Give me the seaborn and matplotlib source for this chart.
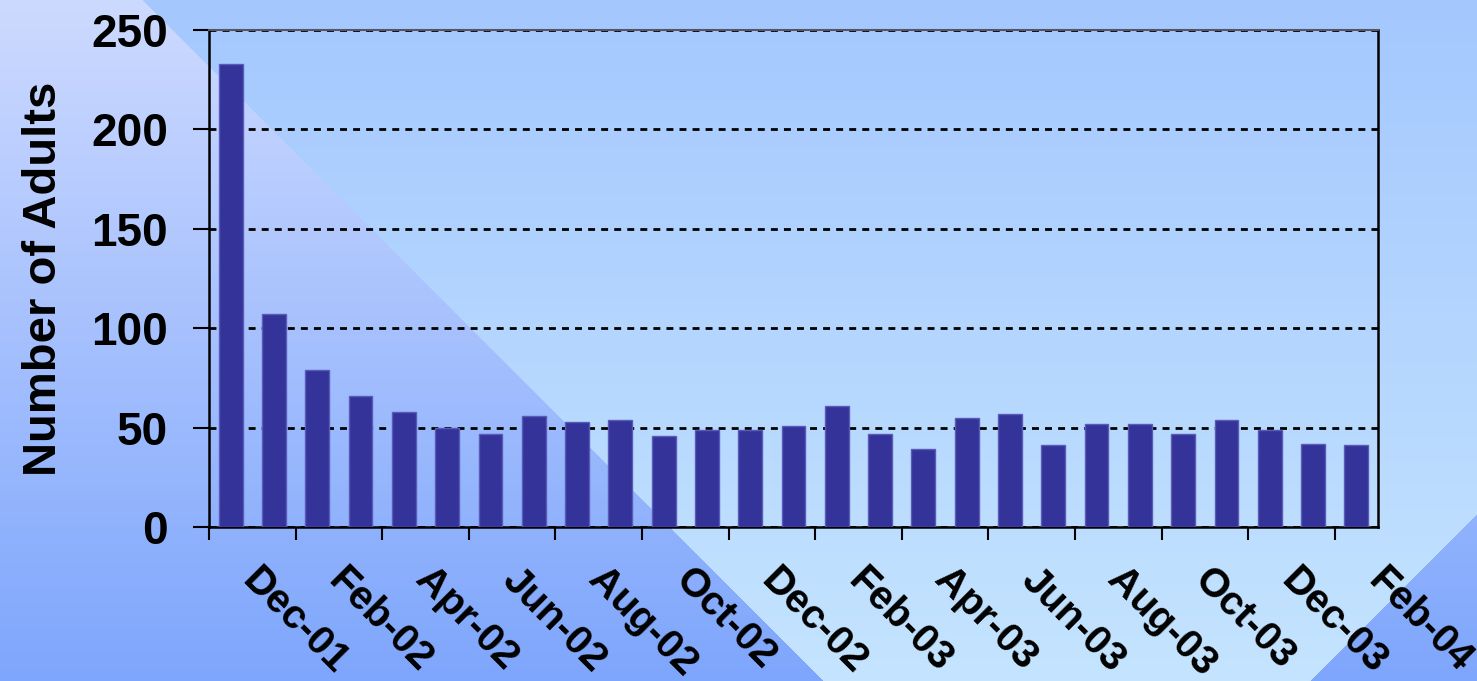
import numpy as np
import pandas as pd
import matplotlib
matplotlib.use("Agg")
import matplotlib.pyplot as plt
import matplotlib.transforms as mtransforms
import seaborn as sns

# Monthly adult counts
months = ["Nov-01", "Dec-01", "Jan-02", "Feb-02", "Mar-02", "Apr-02", "May-02",
          "Jun-02", "Jul-02", "Aug-02", "Sep-02", "Oct-02", "Nov-02", "Dec-02",
          "Jan-03", "Feb-03", "Mar-03", "Apr-03", "May-03", "Jun-03", "Jul-03",
          "Aug-03", "Sep-03", "Oct-03", "Nov-03", "Dec-03", "Jan-04"]
adults = [233, 107, 79, 66, 58, 50, 47, 56, 53, 54, 46, 49, 49, 51,
          61, 47, 39, 55, 57, 41, 52, 52, 47, 54, 49, 42, 41]
axis_labels = ["Dec-01", "Feb-02", "Apr-02", "Jun-02", "Aug-02", "Oct-02", "Dec-02",
               "Feb-03", "Apr-03", "Jun-03", "Aug-03", "Oct-03", "Dec-03", "Feb-04"]
y_ticks = [0, 50, 100, 150, 200, 250]

df = pd.DataFrame({"month": months, "adults": adults})

sns.set_theme(style="white")
plt.rcParams["font.family"] = ["Liberation Sans", "DejaVu Sans"]
plt.rcParams["text.color"] = "black"
plt.rcParams["axes.labelcolor"] = "black"
plt.rcParams["xtick.color"] = "black"
plt.rcParams["ytick.color"] = "black"

W, H = 1477, 681
fig = plt.figure(figsize=(W / 100, H / 100), dpi=100)

# Slide-style backdrop: two blue gradients split by a 45 degree diagonal
yy, xx = np.mgrid[0:H, 0:W].astype(float)
t = yy / (H - 1)
left_top = np.array([205, 218, 255]) / 255
left_bot = np.array([126, 166, 252]) / 255
right_top = np.array([164, 200, 254]) / 255
right_bot = np.array([196, 228, 255]) / 255
left = left_top + (left_bot - left_top) * t[..., None]
right = right_top + (right_bot - right_top) * t[..., None]
mask_left = (xx < 143 + yy)[..., None]
mask_corner = (xx + yy > 1990)[..., None]
img = np.where(mask_left | mask_corner, left, right)

bg = fig.add_axes([0, 0, 1, 1], zorder=0)
bg.imshow(img, aspect="auto", extent=[0, W, H, 0])
bg.set_axis_off()

ax = fig.add_axes([209 / W, 1 - 527 / H, (1378 - 209) / W, (527 - 30) / H], zorder=1)
ax.patch.set_alpha(0)

sns.barplot(data=df, x="month", y="adults", color="#333399", width=0.55,
            edgecolor="#5a5ab8", linewidth=1.0, saturation=1, ax=ax, zorder=3)

ax.set_xlim(-0.5, len(months) - 0.5)
ax.set_ylim(0, 250)
ax.set_yticks(y_ticks)
ax.set_yticklabels([str(v) for v in y_ticks])

# Major ticks at two-month boundaries, labels between them
ax.set_xticks(np.arange(-0.5, len(months) - 1, 2))
ax.set_xticklabels([])
ax.set_xticks(np.arange(0.5, len(months) + 0.5, 2), minor=True)
ax.set_xticklabels(axis_labels, minor=True, rotation=-45, ha="left", va="top",
                   rotation_mode="anchor", fontsize=29, fontweight="bold")
ax.tick_params(axis="x", which="major", direction="out", length=9.5, width=1.5,
               color="black", bottom=True)
ax.tick_params(axis="x", which="minor", length=0, pad=24, bottom=True)
ax.tick_params(axis="y", direction="out", length=11.5, width=1.5, color="black",
               left=True, pad=18, labelsize=33)
for lbl in ax.get_yticklabels():
    lbl.set_fontweight("bold")

ax.yaxis.grid(True, color="black", linestyle=(0, (2.5, 2.2)), linewidth=2.0, zorder=1)
ax.set_axisbelow(True)

for side in ["left", "bottom", "right"]:
    ax.spines[side].set_visible(True)
    ax.spines[side].set_color("black")
    ax.spines[side].set_linewidth(1.8)
ax.spines["top"].set_visible(True)
ax.spines["top"].set_color("#555566")
ax.spines["top"].set_linewidth(1.5)

ax.set_xlabel("")
ax.set_ylabel("Number of Adults", fontsize=34, fontweight="bold", labelpad=18)

# Nudge the slanted month labels a little to the right
shift = mtransforms.ScaledTranslation(9 / 100, 0, fig.dpi_scale_trans)
for lbl in ax.get_xticklabels(minor=True):
    lbl.set_transform(lbl.get_transform() + shift)

fig.savefig("out.png", dpi=100)
